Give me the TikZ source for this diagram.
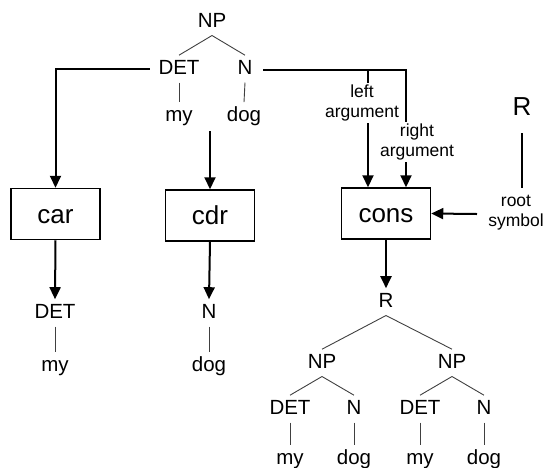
\documentclass[tikz,border=0pt]{standalone}
\usepackage{fontspec}
\setmainfont{Liberation Sans}
\usetikzlibrary{arrows.meta}
\begin{document}
\begin{tikzpicture}[x=1pt,y=-1pt,
  tn/.style={font=\fontsize{20.5}{24}\selectfont, inner sep=0pt, outer sep=4pt,
             text height=14.8pt, text depth=4.5pt, anchor=base},
  fbox/.style={draw, line width=1.5pt, minimum width=89pt, minimum height=51pt,
             inner sep=0pt, font=\fontsize{26}{30}\selectfont, text height=18.7pt, text depth=0pt},
  lbl/.style={font=\fontsize{17.5}{20}\selectfont, align=center, inner sep=0pt, outer sep=2pt, anchor=north},
  big/.style={font=\fontsize{26}{30}\selectfont, inner sep=0pt, anchor=base},
  tl/.style={draw=black!75, line width=0.9pt},
  heavy/.style={draw=black, line width=2pt},
  arr/.style={heavy, -{Triangle[width=11pt,length=12pt]}}]
\useasboundingbox (0,0) rectangle (544,467);

% top tree
\node[tn] (np) at (212,27) {NP};
\node[tn] (det1) at (179,74) {DET};
\node[tn] (n1) at (245,74) {N};
\node[tn] (my1) at (179,121) {my};
\node[tn] (dog1) at (244,121) {dog};
\draw[tl] (np.south) -- (det1.north);
\draw[tl] (np.south) -- (n1.north);
\draw[tl] (det1.south) -- (my1.north);
\draw[tl] (n1.south) -- (dog1.north);

% boxes
\node[fbox] (car) at (55.5,214) {car};
\node[fbox] (cdr) at (210,215.5) {cdr};
\node[fbox] (cons) at (386,213.5) {cons};

% car output
\node[tn] (det2) at (55,318) {DET};
\node[tn] (my2) at (55,371) {my};
\draw[tl] (det2.south) -- (my2.north);
% cdr output
\node[tn] (n2) at (209,318) {N};
\node[tn] (dog2) at (209,371) {dog};
\draw[tl] (n2.south) -- (dog2.north);

% arrows into car and cdr
\draw[arr] ([xshift=-5pt]det1.west) -| (car.north);
\coordinate (cdrin) at (210,131);
\draw[arr] (cdrin) -- (cdr.north);
\draw[arr] (car.south) -- (det2.north);
\draw[arr] (cdr.south) -- (n2.north);

% arguments of cons
\coordinate (jl) at (368,70);
\coordinate (jr) at (406,70);
\node[lbl] (larg) at (362,83) {left\\argument};
\node[lbl] (rarg) at (417,122) {right\\argument};
\draw[heavy] ([xshift=7pt]n1.east |- jr) -- (jr) -- (jr |- rarg.north);
\draw[heavy] (jl) -- (jl |- larg.north);
\draw[arr] (jl |- larg.south) -- (jl |- cons.north);
\draw[arr] (jr |- rarg.south) -- (jr |- cons.north);

% root symbol
\node[big] (rbig) at (522,115) {R};
\node[lbl] (rs) at (516,193) {root\\symbol};
\coordinate (rtop) at (522,133);
\coordinate (rbot) at (522,188);
\draw[draw=black, line width=1.3pt] (rtop) -- (rbot);
\coordinate (rsin) at (477,214);
\draw[arr] (rsin) -- (cons.east);

% result tree
\node[tn] (r2) at (386,307) {R};
\draw[arr] (cons.south) -- (r2.north);
\node[tn] (npl) at (322,368) {NP};
\node[tn] (npr) at (452,368) {NP};
\draw[tl] (r2.south) -- (npl.north);
\draw[tl] (r2.south) -- (npr.north);
\node[tn] (det3) at (290,414) {DET};
\node[tn] (n3) at (354,414) {N};
\node[tn] (det4) at (420,414) {DET};
\node[tn] (n4) at (484,414) {N};
\draw[tl] (npl.south) -- (det3.north);
\draw[tl] (npl.south) -- (n3.north);
\draw[tl] (npr.south) -- (det4.north);
\draw[tl] (npr.south) -- (n4.north);
\node[tn] (my3) at (290,464) {my};
\node[tn] (dog3) at (354,464) {dog};
\node[tn] (my4) at (420,464) {my};
\node[tn] (dog4) at (484,464) {dog};
\draw[tl] (det3.south) -- (my3.north);
\draw[tl] (n3.south) -- (dog3.north);
\draw[tl] (det4.south) -- (my4.north);
\draw[tl] (n4.south) -- (dog4.north);
\end{tikzpicture}
\end{document}
